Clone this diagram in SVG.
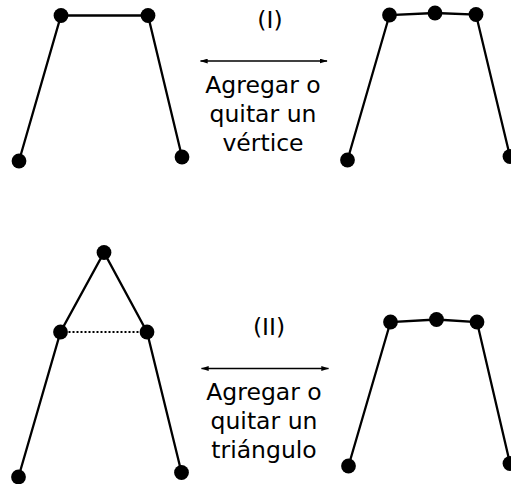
<svg xmlns="http://www.w3.org/2000/svg" width="511" height="484" viewBox="0 0 511 484">
<style>
.e{stroke:#000;stroke-width:2.3;fill:none}
.d{stroke:#000;stroke-width:2;stroke-dasharray:2,2;fill:none}
.a{stroke:#000;stroke-width:1.6;fill:none;marker-start:url(#h);marker-end:url(#h)}
.n{fill:#000}
text{font-family:"DejaVu Sans",sans-serif;font-size:23.5px;text-anchor:middle;fill:#000}
</style>
<defs>
<marker id="h" viewBox="0 0 10 6" refX="9" refY="3" markerWidth="8" markerHeight="5" orient="auto-start-reverse" markerUnits="userSpaceOnUse"><path d="M0,0L10,3L0,6z" fill="#000"/></marker>
</defs>
<rect width="511" height="484" fill="#fff"/>
<g id="connectors">
<polyline class="e" points="19,161 61,15.5 148,15.5 182,157"/>
<polyline class="e" points="347.5,160 389.5,15 435,13 476,14.5 510,156.5"/>
<polyline class="e" points="18.5,477 60.5,332 104,252.5 147,332 181.5,472.5"/>
<line class="d" x1="60.5" y1="332" x2="147" y2="332"/>
<polyline class="e" points="348.5,466 390.5,322 436.5,319.5 477,322 510,463.5"/>
<line class="a" x1="200.5" y1="61" x2="327" y2="61"/>
<line class="a" x1="201.5" y1="368.5" x2="328.5" y2="368.5"/>
</g>
<g id="n1"><circle class="n" cx="61" cy="15.5" r="7.4"/></g>
<g id="n2"><circle class="n" cx="148" cy="15.5" r="7.4"/></g>
<g id="n3"><circle class="n" cx="19" cy="161" r="7.4"/></g>
<g id="n4"><circle class="n" cx="182" cy="157" r="7.4"/></g>
<g id="n5"><circle class="n" cx="389.5" cy="15" r="7.4"/></g>
<g id="n6"><circle class="n" cx="435" cy="13" r="7.4"/></g>
<g id="n7"><circle class="n" cx="476" cy="14.5" r="7.4"/></g>
<g id="n8"><circle class="n" cx="347.5" cy="160" r="7.4"/></g>
<g id="n9"><circle class="n" cx="510" cy="156.5" r="7.4"/></g>
<g id="n10"><circle class="n" cx="104" cy="252.5" r="7.4"/></g>
<g id="n11"><circle class="n" cx="60.5" cy="332" r="7.4"/></g>
<g id="n12"><circle class="n" cx="147" cy="332" r="7.4"/></g>
<g id="n13"><circle class="n" cx="18.5" cy="477" r="7.4"/></g>
<g id="n14"><circle class="n" cx="181.5" cy="472.5" r="7.4"/></g>
<g id="n15"><circle class="n" cx="390.5" cy="322" r="7.4"/></g>
<g id="n16"><circle class="n" cx="436.5" cy="319.5" r="7.4"/></g>
<g id="n17"><circle class="n" cx="477" cy="322" r="7.4"/></g>
<g id="n18"><circle class="n" cx="348.5" cy="466" r="7.4"/></g>
<g id="n19"><circle class="n" cx="510" cy="463.5" r="7.4"/></g>
<g id="label1">
<text x="270" y="28">(I)</text>
<text x="263" y="93">Agregar o</text>
<text x="263" y="122">quitar un</text>
<text x="263" y="151">vértice</text>
</g>
<g id="label2">
<text x="269" y="335">(II)</text>
<text x="264" y="400">Agregar o</text>
<text x="264" y="429">quitar un</text>
<text x="264" y="458">triángulo</text>
</g>
</svg>
